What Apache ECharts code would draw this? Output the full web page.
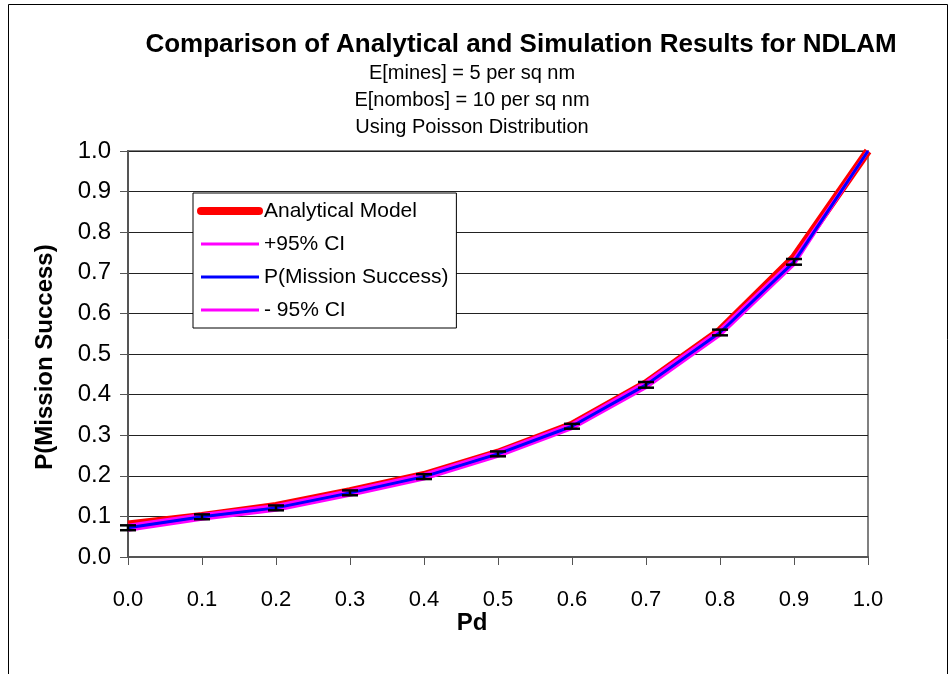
<!DOCTYPE html>
<html>
<head>
<meta charset="utf-8">
<script src="https://cdn.jsdelivr.net/npm/echarts@6/dist/echarts.min.js"></script>
<style>
  html, body { margin: 0; padding: 0; background: #fff; }
  #chart { width: 951px; height: 674px; }
</style>
</head>
<body>
<div id="chart"></div>
<script>
// Pd values (x)
const pd = [0.0, 0.1, 0.2, 0.3, 0.4, 0.5, 0.6, 0.7, 0.8, 0.9, 1.0];
// analytical model
const analytical = [0.080, 0.101, 0.126, 0.162, 0.202, 0.257, 0.326, 0.428, 0.558, 0.738, 1.000];
// simulation P(Mission Success)
const simMean = [0.072, 0.099, 0.121, 0.158, 0.198, 0.254, 0.322, 0.424, 0.553, 0.727, 1.000];
// +95% CI / -95% CI
const ciUpper = [0.078, 0.105, 0.127, 0.164, 0.204, 0.260, 0.328, 0.431, 0.560, 0.734, 1.000];
const ciLower = [0.066, 0.093, 0.115, 0.152, 0.192, 0.248, 0.316, 0.417, 0.546, 0.720, 1.000];

const FONT = '"Liberation Sans", Arial, sans-serif';

const pairs = (ys) => pd.map((x, i) => [x, ys[i]]);

const chart = echarts.init(document.getElementById('chart'));

function centerText(txt, x, y, font) {
  return { type: 'text', x: x, y: y,
    style: { text: txt, font: font, fill: '#000', align: 'center', verticalAlign: 'middle' } };
}

chart.setOption({
  backgroundColor: '#fff',
  animation: false,
  textStyle: { fontFamily: FONT },
  grid: {
    left: 128, right: 83, top: 151, bottom: 117,
    show: true,
    borderColor: '#808080',
    borderWidth: 2
  },
  graphic: [
    // outer frame
    { type: 'rect', shape: { x: 8.5, y: 4.5, width: 939, height: 700 },
      style: { fill: 'none', stroke: '#000', lineWidth: 1 }, silent: true },
    centerText('Comparison of Analytical and Simulation Results for NDLAM', 521, 45, 'bold 26px ' + FONT),
    centerText('E[mines] = 5 per sq nm', 472, 73, '20px ' + FONT),
    centerText('E[nombos] = 10 per sq nm', 472, 100, '20px ' + FONT),
    centerText('Using Poisson Distribution', 472, 127, '20px ' + FONT),
    // axis names
    centerText('Pd', 472, 623, 'bold 24px ' + FONT),
    { type: 'text', x: 45, y: 357, rotation: Math.PI / 2,
      style: { text: 'P(Mission Success)', font: 'bold 24px ' + FONT, fill: '#000',
        align: 'center', verticalAlign: 'middle' } }
  ],
  legend: {
    orient: 'vertical',
    left: 193,
    top: 193,
    itemWidth: 58,
    itemHeight: 14,
    itemGap: 9,
    padding: [6, 8, 6, 4],
    backgroundColor: '#fff',
    borderColor: '#000',
    borderWidth: 1,
    itemStyle: { opacity: 0 },
    textStyle: { fontSize: 21, color: '#000', fontFamily: FONT, lineHeight: 24 },
    data: [
      { name: 'Analytical Model', lineStyle: { width: 8, cap: 'round' } },
      { name: '+95% CI', lineStyle: { width: 3 } },
      { name: 'P(Mission Success)', lineStyle: { width: 3 } },
      { name: '- 95% CI', lineStyle: { width: 3 } }
    ]
  },
  xAxis: {
    type: 'value',
    min: 0, max: 1, interval: 0.1,
    axisLine: { lineStyle: { color: '#555', width: 2 } },
    axisTick: { show: true, length: 8, lineStyle: { color: '#555', width: 1 } },
    axisLabel: { fontSize: 22, color: '#000', margin: 32,
      formatter: (v) => v.toFixed(1) },
    splitLine: { show: false }
  },
  yAxis: {
    type: 'value',
    min: 0, max: 1, interval: 0.1,
    axisLine: { show: true, lineStyle: { color: '#555', width: 2 } },
    axisTick: { show: true, length: 8, lineStyle: { color: '#555', width: 1 } },
    axisLabel: { fontSize: 24, color: '#000', margin: 17,
      formatter: (v) => v.toFixed(1) },
    splitLine: { show: true, lineStyle: { color: '#222', width: 1 } }
  },
  series: [
    {
      name: 'Analytical Model', type: 'line', data: pairs(analytical),
      symbol: 'none', color: '#ff0000',
      lineStyle: { color: '#ff0000', width: 8 }
    },
    {
      name: '+95% CI', type: 'line', data: pairs(ciUpper),
      symbol: 'none', color: '#ff00ff',
      lineStyle: { color: '#ff00ff', width: 3 }
    },
    {
      name: 'P(Mission Success)', type: 'line', data: pairs(simMean),
      symbol: 'none', color: '#0000ff', z: 4,
      lineStyle: { color: '#0000ff', width: 3 }
    },
    {
      name: '- 95% CI', type: 'line', data: pairs(ciLower),
      symbol: 'none', color: '#ff00ff',
      lineStyle: { color: '#ff00ff', width: 3 }
    },
    {
      // error bars
      name: 'errorbar', type: 'custom', z: 5,
      data: pd.map((x, i) => [x, ciLower[i], ciUpper[i]]),
      renderItem: function (params, api) {
        const lo = api.coord([api.value(0), api.value(1)]);
        const hi = api.coord([api.value(0), api.value(2)]);
        if (Math.abs(lo[1] - hi[1]) < 1) return null;
        const w = 8;
        const st = { stroke: '#000', lineWidth: 2.5 };
        return {
          type: 'group',
          children: [
            { type: 'line', shape: { x1: hi[0], y1: hi[1], x2: lo[0], y2: lo[1] }, style: st },
            { type: 'line', shape: { x1: hi[0] - w, y1: hi[1], x2: hi[0] + w, y2: hi[1] }, style: st },
            { type: 'line', shape: { x1: lo[0] - w, y1: lo[1], x2: lo[0] + w, y2: lo[1] }, style: st }
          ]
        };
      }
    }
  ]
});
</script>
</body>
</html>
